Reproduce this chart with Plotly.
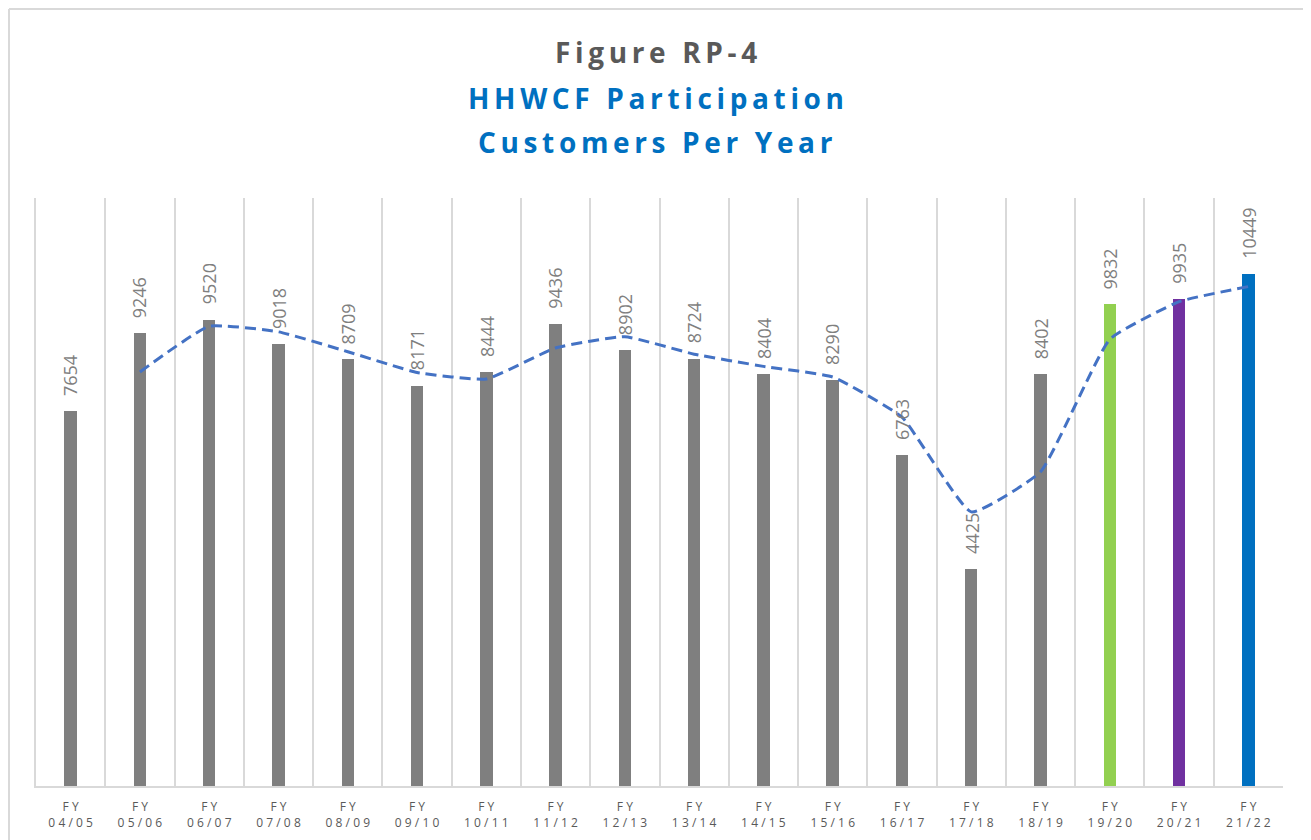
import plotly.graph_objects as go

years = ["04/05", "05/06", "06/07", "07/08", "08/09", "09/10", "10/11", "11/12", "12/13",
         "13/14", "14/15", "15/16", "16/17", "17/18", "18/19", "19/20", "20/21", "21/22"]
customers = [7654, 9246, 9520, 9018, 8709, 8171, 8444, 9436, 8902,
             8724, 8404, 8290, 6763, 4425, 8402, 9832, 9935, 10449]
# 2-period moving average trendline (starts at FY 05/06)
trend = [8450, 9383, 9269, 8863.5, 8440, 8307.5, 8940, 9169,
         8813, 8564, 8347, 7526.5, 5594, 6413.5, 9117, 9883.5, 10192]

GRAY = "#7f7f7f"
bar_colors = [GRAY] * 15 + ["#92d050", "#7030a0", "#0070c0"]

# plot area in figure pixels
L, R, T, B = 28, 36, 190, 62
PH = 840 - T - B
PW = 1311 - L - R


def spaced(s, sep="\u2009"):
    return sep.join(s)


def py(px):  # figure pixel row -> paper y
    return (840 - B - px) / PH


cats = [f"{spaced('FY', ' ')}<br>{spaced(y, chr(0x2009) + chr(0x200a))}" for y in years]

fig = go.Figure()
fig.add_trace(go.Bar(x=cats, y=customers, marker=dict(color=bar_colors, line=dict(width=0)),
                     width=0.18, hoverinfo="x+y"))
fig.add_trace(go.Scatter(x=cats[1:], y=trend, mode="lines",
                         line=dict(color="#4472c4", width=3, dash="11px,6px", shape="spline",
                                   smoothing=0.4),
                         hoverinfo="skip"))

for c, v in zip(cats, customers):
    fig.add_annotation(x=c, y=v, text=str(v), showarrow=False, textangle=-90,
                       yanchor="bottom", yshift=13,
                       font=dict(family="Open Sans", size=18, color=GRAY))

titles = [("Figure RP-4", "#595959", 28, 44),
          ("HHWCF Participation", "#0070c0", 28, 90),
          ("Customers Per Year", "#0070c0", 28, 134)]
for txt, col, size, ypx in titles:
    fig.add_annotation(xref="paper", yref="paper", x=0.497, y=py(ypx), yanchor="middle",
                       text="<b>" + spaced(txt) + "</b>", showarrow=False,
                       font=dict(family="Open Sans", size=size, color=col))

# chart border (left and top edges)
bx = -(L - 1) / PW
fig.add_shape(type="line", xref="paper", yref="paper", x0=bx, x1=bx,
              y0=py(840), y1=py(1), line=dict(color="#d9d9d9", width=2))
fig.add_shape(type="line", xref="paper", yref="paper", x0=bx, x1=1 + R / PW,
              y0=py(1), y1=py(1), line=dict(color="#d9d9d9", width=2))

fig.update_layout(
    width=1311, height=840,
    margin=dict(l=L, r=R, t=T, b=B),
    paper_bgcolor="white", plot_bgcolor="white",
    showlegend=False, bargap=0,
    font=dict(family="Open Sans", color="#595959"),
    xaxis=dict(tickson="boundaries", showgrid=True, gridcolor="#d9d9d9", gridwidth=1.5,
               showline=True, linecolor="#d9d9d9", linewidth=2, ticks="",
               ticklabelstandoff=9,
               tickfont=dict(size=12, color="#595959"), tickangle=0),
    yaxis=dict(range=[0, 12000], showgrid=False, zeroline=False, showticklabels=False,
               ticks="", showline=True, linecolor="#d9d9d9", linewidth=1.5),
)

fig.write_html("out.html")
